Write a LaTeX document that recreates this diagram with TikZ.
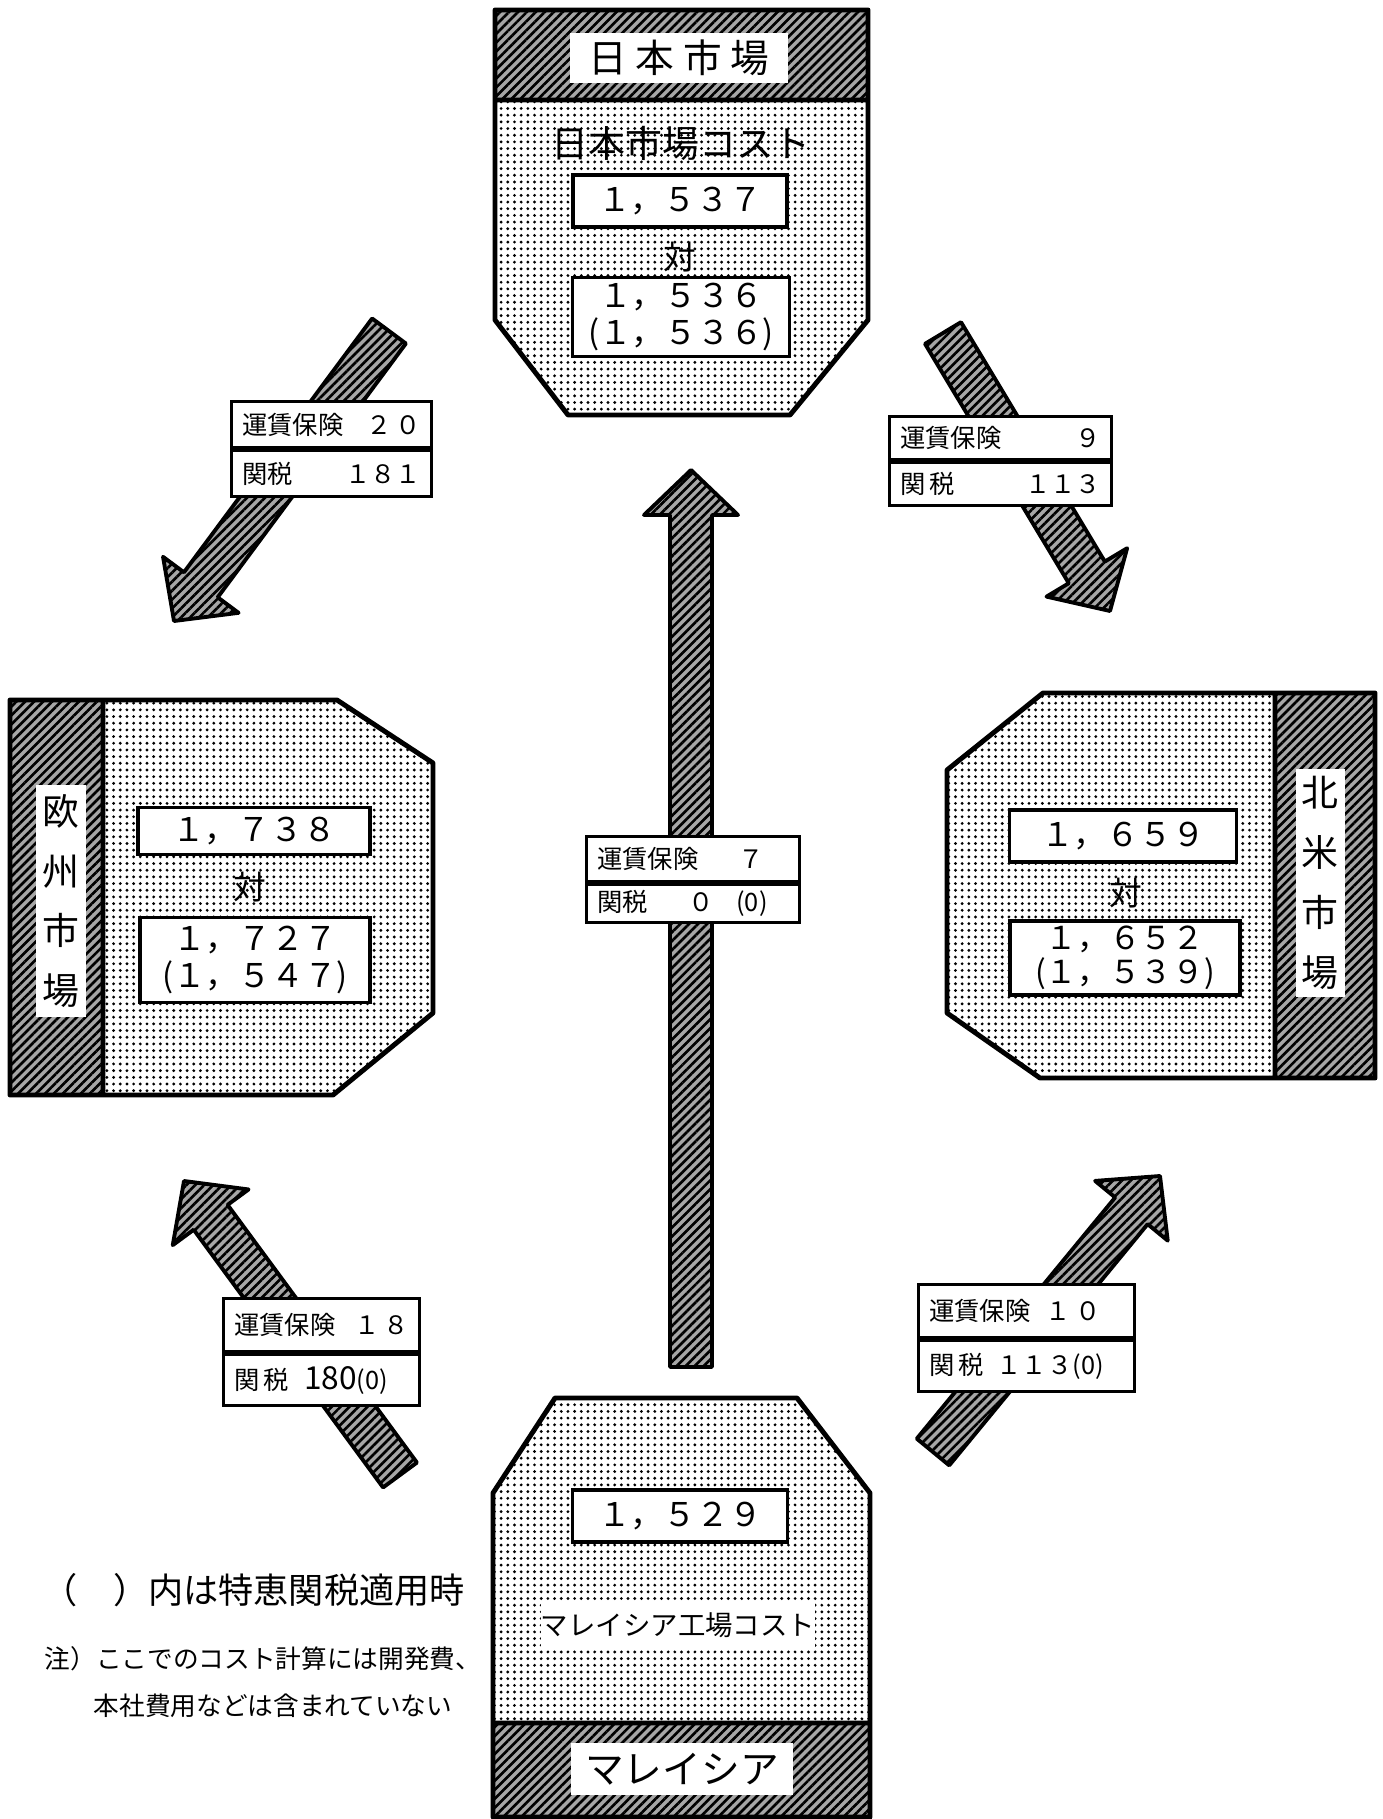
\documentclass[tikz,border=0pt]{standalone}
\usepackage{fontspec}
\setmainfont{Noto Sans CJK JP}
\usepackage{tikz}
\usetikzlibrary{calc,positioning,patterns.meta}

% block arrow from tail to tip
\newcommand{\fatarrow}[2]{%
  \draw[fatarr] ($(#1)!0.21cm!90:(#2)$)
    -- ($(#2)!0.45cm!(#1)!0.21cm!-90:(#1)$)
    -- ($(#2)!0.45cm!(#1)!0.47cm!-90:(#1)$)
    -- (#2)
    -- ($(#2)!0.45cm!(#1)!0.47cm!90:(#1)$)
    -- ($(#2)!0.45cm!(#1)!0.21cm!90:(#1)$)
    -- ($(#1)!0.21cm!-90:(#2)$) -- cycle;}

\begin{document}
\begin{tikzpicture}[
  x=0.01cm, y=-0.01cm,
  every node/.style={font=\fontsize{9.3}{10.5}\selectfont},
  hatchfill/.style={fill=black!35,
              postaction={pattern={Lines[angle=45,distance=1.8pt,line width=0.75pt]}}},
  dotfill/.style={fill=white,
              postaction={pattern={Dots[distance=1.9pt,radius=0.45pt]}}},
  frame/.style={line width=1.4pt, line join=round},
  fatarr/.style={draw, line width=1.1pt, line join=round, hatchfill},
  banner/.style={fill=white, inner sep=0pt, font=\fontsize{11}{13}\selectfont},
  vbanner/.style={fill=white, inner sep=0pt, align=center,
              minimum width=0.49cm, font=\fontsize{10.5}{17}\selectfont},
  numbox/.style={draw, line width=1pt, fill=white, inner sep=0pt, align=center},
  tabrow/.style={draw, line width=0.9pt, fill=white, inner xsep=3pt, inner ysep=0pt,
              text width=#1, font=\fontsize{7.2}{8}\selectfont},
  note/.style={anchor=west, inner sep=0pt, font=\fontsize{7.3}{8}\selectfont},
]
\useasboundingbox (0,0) rectangle (1382,1819);

% Arrows
\coordinate (nwTail) at (389,331);  \coordinate (nwTip) at (174,621);
\coordinate (neTail) at (943,333);  \coordinate (neTip) at (1110,611);
\coordinate (swTail) at (400,1475); \coordinate (swTip) at (184,1181);
\coordinate (seTail) at (933,1452); \coordinate (seTip) at (1160,1176);
\coordinate (upTail) at (691,1367); \coordinate (upTip) at (691,470);
\fatarrow{nwTail}{nwTip}
\fatarrow{neTail}{neTip}
\fatarrow{swTail}{swTip}
\fatarrow{seTail}{seTip}
\fatarrow{upTail}{upTip}

% Japan market
\path[dotfill] (495,10) -- (868,10) -- (868,320) -- (790,415) -- (568,415) -- (495,320) -- cycle;
\path[hatchfill] (495,10) rectangle (868,100);
\draw[frame] (495,10) -- (868,10) -- (868,320) -- (790,415) -- (568,415) -- (495,320) -- cycle
  (495,100) -- (868,100);
\node[banner, minimum width=2.18cm, minimum height=0.5cm] (japanName) at (679,58) {日 本 市 場};
\node[font=\fontsize{10.5}{12}\selectfont] (japanCost) at (681,143) {日本市場コスト};
\node[numbox, minimum width=2.14cm, minimum height=0.52cm] (japanOwn) at (680,201) {１，５３７};
\node (japanVs) at (680,257) {対};
\node[numbox, minimum width=2.17cm, minimum height=0.79cm] (japanImp) at (681,317) {１，５３６\\(１，５３６)};

% Europe market
\path[dotfill] (10,700) -- (337,700) -- (433,763) -- (433,1013) -- (333,1095) -- (10,1095) -- cycle;
\path[hatchfill] (10,700) rectangle (103,1095);
\draw[frame] (10,700) -- (337,700) -- (433,763) -- (433,1013) -- (333,1095) -- (10,1095) -- cycle
  (103,700) -- (103,1095);
\node[vbanner, minimum height=2.32cm] (euroName) at (61,901) {欧\\州\\市\\場};
\node[numbox, minimum width=2.32cm, minimum height=0.47cm] (euroOwn) at (254,831) {１，７３８};
\node (euroVs) at (250,887) {対};
\node[numbox, minimum width=2.30cm, minimum height=0.85cm] (euroImp) at (255,960) {１，７２７\\(１，５４７)};

% North America market
\path[dotfill] (1375,693) -- (1375,1078) -- (1040,1078) -- (947,1013) -- (947,770) -- (1043,693) -- cycle;
\path[hatchfill] (1275,693) rectangle (1375,1078);
\draw[frame] (1375,693) -- (1375,1078) -- (1040,1078) -- (947,1013) -- (947,770) -- (1043,693) -- cycle
  (1275,693) -- (1275,1078);
\node[vbanner, minimum height=2.27cm] (usName) at (1320,883) {北\\米\\市\\場};
\node[numbox, minimum width=2.27cm, minimum height=0.52cm] (usOwn) at (1123,836) {１，６５９};
\node (usVs) at (1126,893) {対};
\node[numbox, minimum width=2.30cm, minimum height=0.74cm,
  font=\fontsize{9}{9.6}\selectfont] (usImp) at (1125,958) {１，６５２\\(１，５３９)};

% Malaysia factory
\path[dotfill] (555,1398) -- (797,1398) -- (870,1493) -- (870,1817) -- (493,1817) -- (493,1493) -- cycle;
\path[hatchfill] (493,1723) rectangle (870,1817);
\draw[frame] (555,1398) -- (797,1398) -- (870,1493) -- (870,1817) -- (493,1817) -- (493,1493) -- cycle
  (493,1723) -- (870,1723);
\node[numbox, minimum width=2.15cm, minimum height=0.52cm] (myOwn) at (680,1516) {１，５２９};
\node[fill=white, inner sep=0pt, minimum width=2.70cm, minimum height=0.44cm,
  font=\fontsize{7.8}{9}\selectfont] (myCost) at (678,1625) {マレイシア工場コスト};
\node[banner, minimum width=2.21cm, minimum height=0.52cm] (myName) at (682,1769) {マレイシア};

% Freight and duty tables
\node[tabrow=1.79cm, anchor=north west, minimum height=0.46cm] (nwFreight) at (230,400) {運賃保険\hfill ２\,０};
\node[tabrow=1.79cm, below=0pt of nwFreight, minimum height=0.46cm] (nwDuty) {関税\hfill １８１};
\node[tabrow=2.01cm, anchor=north west, minimum height=0.43cm] (neFreight) at (888,415) {運賃保険\hfill ９\hspace*{1.3em}};
\node[tabrow=2.01cm, below=0pt of neFreight, minimum height=0.43cm] (neDuty) {関\,税\hfill １１３};
\node[tabrow=1.92cm, anchor=north west, minimum height=0.45cm] (upFreight) at (585,835) {運賃保険\hspace{1.6em}７};
\node[tabrow=1.92cm, below=0pt of upFreight, minimum height=0.38cm] (upDuty) {関税\hspace{1.6em}０\hspace{0.9em}(0)};
\node[tabrow=1.75cm, anchor=north west, minimum height=0.53cm] (swFreight) at (222,1297) {運賃保険\hfill １\,８};
\node[tabrow=1.75cm, below=0pt of swFreight, minimum height=0.51cm] (swDuty) {関\,税\hspace{0.6em}{\fontsize{9}{9}\selectfont 180}(0)};
\node[tabrow=1.95cm, anchor=north west, minimum height=0.53cm] (seFreight) at (917,1283) {運賃保険\hspace{0.6em}１\,０};
\node[tabrow=1.95cm, below=0pt of seFreight, minimum height=0.51cm] (seDuty) {関\,税\hspace{0.5em}１１３(0)};

% Notes
\node[note, font=\fontsize{10}{12}\selectfont] (parenNote) at (42,1590) {（\quad）内は特恵関税適用時};
\node[note] (costNote) at (44,1659) {注）ここでのコスト計算には開発費、};
\node[note] (costNoteB) at (93,1706) {本社費用などは含まれていない};

\end{tikzpicture}
\end{document}
